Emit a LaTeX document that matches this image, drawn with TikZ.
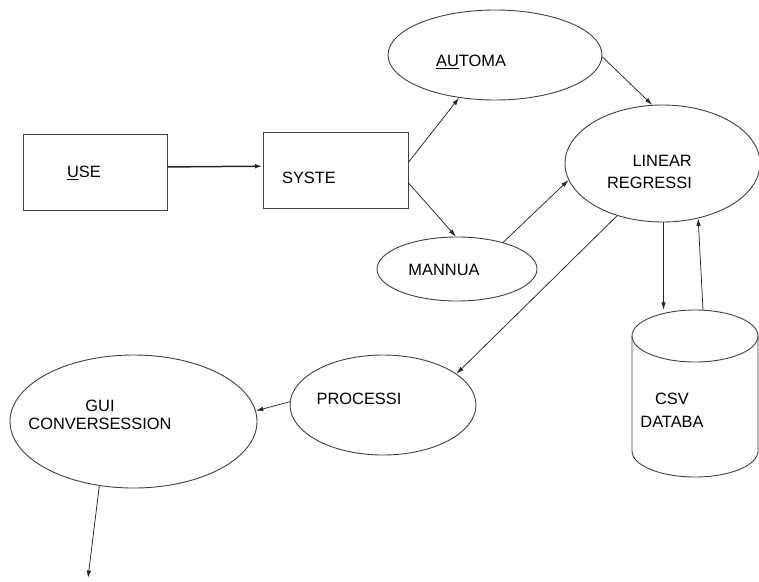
\documentclass[tikz,border=0pt]{standalone}
\usepackage{fontspec}
\setmainfont{Liberation Sans}
\usetikzlibrary{shapes.geometric,arrows.meta}
\newlength{\du}
\setlength{\du}{15\unitlength}
\tikzset{
  boxshape/.style={rectangle, draw=dialinecolor, line width=0.060000\du, inner sep=0pt},
  ovalshape/.style={ellipse, draw=dialinecolor, line width=0.060000\du, inner sep=0pt},
  dbline/.style={draw=dialinecolor, line width=0.060000\du},
  lbl/.style={font=\fontsize{16.4}{22}\selectfont, inner sep=0pt, align=center},
  flow/.style={-{Latex[length=7.5pt,width=4.5pt]}, line width=0.050000\du, draw=black!85},
}

\begin{document}
\begin{tikzpicture}
\pgftransformxscale{1.000000}
\pgftransformyscale{-1.000000}
\definecolor{dialinecolor}{rgb}{0.250000, 0.250000, 0.250000}
\pgfsetstrokecolor{dialinecolor}
\useasboundingbox (0.000000\du,0.000000\du) rectangle (50.600000\du,38.733333\du);
\node[boxshape, minimum width=9.600000\du, minimum height=5.066667\du] (use) at (6.333333\du,11.466667\du){};
\node[boxshape, minimum width=9.666667\du, minimum height=5.066667\du] (syste) at (22.366667\du,11.333333\du){};
\node[ovalshape, minimum width=14.266667\du, minimum height=6.000000\du] (automa) at (33.000000\du,3.666667\du){};
\node[ovalshape, minimum width=13.000000\du, minimum height=7.800000\du] (linreg) at (44.166667\du,10.900000\du){};
\node[ovalshape, minimum width=10.666667\du, minimum height=4.266667\du] (mannua) at (30.466667\du,17.933333\du){};
\node[ovalshape, minimum width=12.400000\du, minimum height=6.666667\du] (processi) at (25.533333\du,27.000000\du){};
\node[ovalshape, minimum width=16.466667\du, minimum height=8.866667\du] (gui) at (8.900000\du,28.100000\du){};
% database cylinder
\node[minimum width=8.400000\du, minimum height=11.133333\du, inner sep=0pt] (csv) at (46.333333\du,26.233333\du){};
\draw[dbline] (42.133333\du,22.400000\du) -- (42.133333\du,30.066667\du) arc[start angle=180, end angle=0, x radius=4.200000\du, y radius=1.733333\du] -- (50.533333\du,22.400000\du);
\draw[dbline] (46.333333\du,22.400000\du) ellipse [x radius=4.200000\du, y radius=1.733333\du];
\coordinate (guiout) at (5.866667\du,38.533333\du);
% texts
\node[lbl] (uselbl) at (5.600000\du,11.533333\du){\underline{U}SE};
\node[lbl] (systelbl) at (20.600000\du,11.866667\du){SYSTE};
\node[lbl] (automalbl) at (31.400000\du,4.133333\du){\underline{A}\underline{U}TOMA};
\node[lbl, align=right, anchor=east] (linreglbl) at (46.133333\du,11.466667\du){LINEAR\\REGRESSI};
\node[lbl] (mannualbl) at (29.600000\du,18.000000\du){MANNUA};
\node[lbl] (processilbl) at (23.933333\du,26.600000\du){PROCESSI};
\node[lbl, font=\fontsize{16.4}{18}\selectfont] (guilbl) at (6.666667\du,27.666667\du){GUI\\CONVERSESSION};
\node[lbl, font=\fontsize{16.4}{23}\selectfont] (csvlbl) at (44.800000\du,27.366667\du){CSV\\DATABA};
% arrows
\draw[flow, line width=0.100000\du] (use.4) -- (syste.177);
\draw[flow] (syste.6) -- (automa.-130);
\draw[flow] (syste.-10) -- (mannua.92);
\draw[flow] (mannua.30) -- (linreg.-170);
\draw[flow] (automa.-1) -- (linreg.100);
\draw[flow] (linreg.-131) -- (processi.23);
\draw[flow] (linreg.-89) -- (linreg.-89 |- csv.north);
\draw[flow] ([xshift=0.533333\du]csv.north) -- (linreg.-57);
\draw[flow] (processi.178) -- (gui.5);
\draw[flow] (gui.-118) -- (guiout);
\end{tikzpicture}
\end{document}
